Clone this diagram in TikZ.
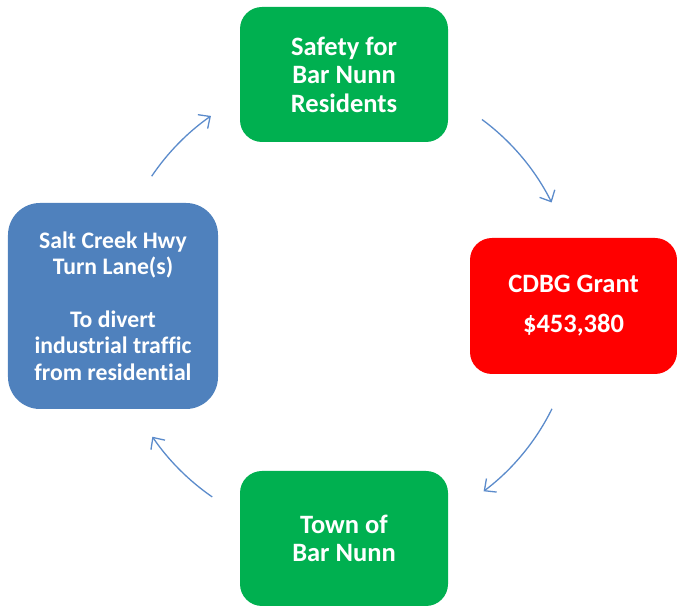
\documentclass[tikz,border=0pt]{standalone}
\usepackage{fontspec}
\setmainfont{Carlito}[Ligatures=NoCommon]
\usetikzlibrary{arrows.meta}
\definecolor{cgreen}{HTML}{00B050}
\definecolor{cred}{HTML}{FF0000}
\definecolor{cblue}{HTML}{4F81BD}
\definecolor{carrow}{HTML}{5B8BCB}
\begin{document}
\begin{tikzpicture}[x=1bp,y=1bp]
\tikzset{
  box/.style={rounded corners=22bp, text=white, inner sep=0pt, align=center,
    font=\bfseries\fontsize{26.5bp}{28.5bp}\selectfont},
  arr/.style={draw=carrow, line width=1.3bp,
    -{Straight Barb[length=9bp,width=17bp,line width=1.3bp]}}
}
\useasboundingbox (0,0) rectangle (677,607);
\node[box, fill=cgreen, minimum width=208bp, minimum height=135bp] (safety) at (344,532.5) {Safety for\\Bar Nunn\\Residents};
\node[box, fill=cred, minimum width=207bp, minimum height=136bp] (grant) at (573.5,301) {CDBG Grant\\[11.5bp]\$453,380};
\node[box, fill=cblue, rounded corners=32bp, minimum width=210bp, minimum height=206bp,
  font=\bfseries\fontsize{23.7bp}{26.4bp}\selectfont] (salt) at (113,301)
  {Salt Creek Hwy\\Turn Lane(s)\\[26.4bp]To divert\\industrial traffic\\from residential};
\node[box, fill=cgreen, minimum width=208bp, minimum height=135bp] (town) at (344,68.5) {Town of\\Bar Nunn};
\coordinate (c) at (344,301);
\path (c) ++(146:232) coordinate (a1);
\path (c) ++(53.5:232) coordinate (a2);
\path (c) ++(-26.3:232) coordinate (a3);
\path (c) ++(-124.6:232) coordinate (a4);
\draw[arr] (a1) arc[start angle=146, end angle=125, radius=232bp];
\draw[arr] (a2) arc[start angle=53.5, end angle=26.5, radius=232bp];
\draw[arr] (a3) arc[start angle=-26.3, end angle=-53, radius=232bp];
\draw[arr] (a4) arc[start angle=-124.6, end angle=-145.7, radius=232bp];
\end{tikzpicture}
\end{document}
